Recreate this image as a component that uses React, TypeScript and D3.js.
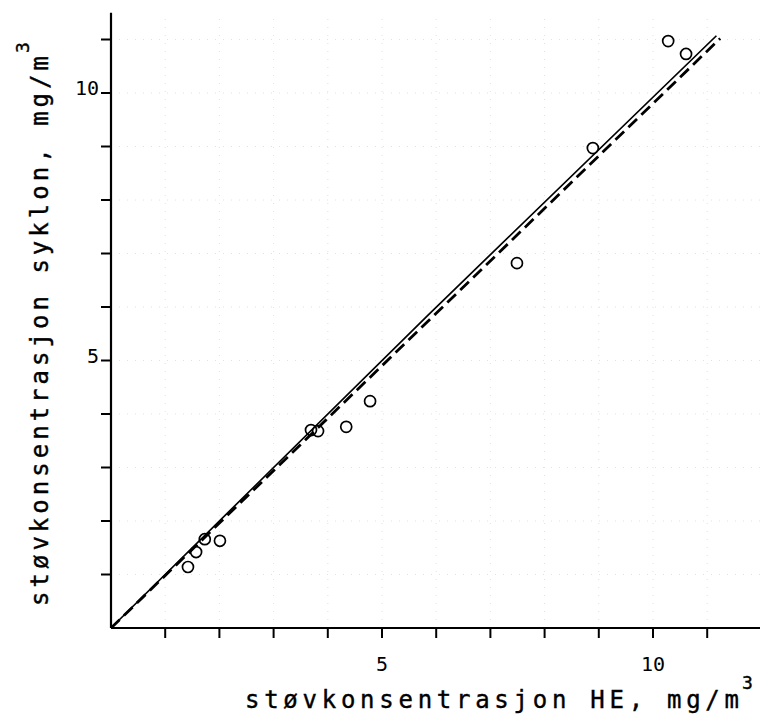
import React from "react";
import * as d3 from "d3";

// measured data: dust concentration HE (x) vs cyclone (y), mg/m3
const heX = [1.42, 1.57, 1.73, 2.01, 3.69, 3.82, 4.34, 4.78, 7.49, 8.89, 10.28, 10.61];
const syklonY = [1.14, 1.42, 1.66, 1.63, 3.7, 3.68, 3.76, 4.24, 6.82, 8.97, 10.97, 10.73];

// fitted line (solid) and reference line (dashed)
const solidX = [0, 5.85, 11.17];
const solidY = [0, 5.85, 11.07];
const dashX = [0, 11.24];
const dashY = [0, 11.02];

const xTicks = [1, 2, 3, 4, 5, 6, 7, 8, 9, 10, 11];
const yTicks = [1, 2, 3, 4, 5, 6, 7, 8, 9, 10, 11];
const xTickLabels = [5, 10];
const yTickLabels = [5, 10];

const xTitle = "støvkonsentrasjon HE, mg/m";
const yTitle = "støvkonsentrasjon syklon, mg/m";

const W = 760;
const H = 716;
const FONT = "'DejaVu Sans Mono', 'Liberation Mono', monospace";

export default function App() {
  const x = d3.scaleLinear().domain([0, 12]).range([111, 111 + 12 * 54.2]);
  const y = d3.scaleLinear().domain([0, 11.5]).range([628, 628 - 11.5 * 53.5]);

  const line = d3
    .line<[number, number]>()
    .x((d) => x(d[0]))
    .y((d) => y(d[1]))
    .curve(d3.curveMonotoneX);

  const solidPts = solidX.map((v, i) => [v, solidY[i]] as [number, number]);
  const dashPts = dashX.map((v, i) => [v, dashY[i]] as [number, number]);

  return (
    <svg
      width={W}
      height={H}
      style={{ position: "absolute", left: 0, top: 0, background: "#fff" }}
      fontFamily={FONT}
    >
      <rect width={W} height={H} fill="#fff" />
      {/* faint dotted graph-paper grid */}
      <g stroke="#e2e2e2" strokeWidth={1} strokeDasharray="1 7">
        {yTicks.map((t) => (
          <line key={"gy" + t} x1={x(0)} x2={x(12)} y1={y(t)} y2={y(t)} />
        ))}
        {xTicks.map((t) => (
          <line key={"gx" + t} x1={x(t)} x2={x(t)} y1={y(0)} y2={y(11.5)} />
        ))}
      </g>

      {/* axes */}
      <line x1={x(0)} x2={x(12)} y1={y(0)} y2={y(0)} stroke="#000" strokeWidth={2.2} />
      <line x1={x(0)} x2={x(0)} y1={y(0)} y2={y(11.5)} stroke="#000" strokeWidth={2.2} />
      {xTicks.map((t) => (
        <line key={"tx" + t} x1={x(t)} x2={x(t)} y1={y(0)} y2={y(0) + 10} stroke="#000" strokeWidth={2} />
      ))}
      {yTicks.map((t) => (
        <line key={"ty" + t} x1={x(0) - 10} x2={x(0)} y1={y(t)} y2={y(t)} stroke="#000" strokeWidth={2} />
      ))}
      {xTickLabels.map((t) => (
        <text key={"lx" + t} x={x(t)} y={y(0) + 43} textAnchor="middle" fontSize={20} fill="#000">
          {t}
        </text>
      ))}
      {yTickLabels.map((t) => (
        <text key={"ly" + t} x={x(0) - 12} y={y(t) + 2} textAnchor="end" fontSize={20} fill="#000">
          {t}
        </text>
      ))}

      {/* lines */}
      <path d={line(solidPts) || ""} fill="none" stroke="#000" strokeWidth={1.7} />
      <path d={line(dashPts) || ""} fill="none" stroke="#000" strokeWidth={2.8} strokeDasharray="12 6" />

      {/* points */}
      {heX.map((v, i) => (
        <circle key={"p" + i} cx={x(v)} cy={y(syklonY[i])} r={5.5} fill="none" stroke="#000" strokeWidth={1.7} />
      ))}

      {/* axis titles */}
      <text x={245} y={708} fontSize={24} fill="#000" stroke="#000" strokeWidth={0.4} textLength={494} lengthAdjust="spacing">
        {xTitle}
      </text>
      <text x={742} y={689} fontSize={18} fill="#000" stroke="#000" strokeWidth={0.4}>
        3
      </text>
      <g transform="translate(48,606) rotate(-90)">
        <text x={0} y={0} fontSize={24} fill="#000" stroke="#000" strokeWidth={0.4} textLength={550} lengthAdjust="spacing">
          {yTitle}
        </text>
        <text x={553} y={-19} fontSize={18} fill="#000" stroke="#000" strokeWidth={0.4}>
          3
        </text>
      </g>
    </svg>
  );
}
